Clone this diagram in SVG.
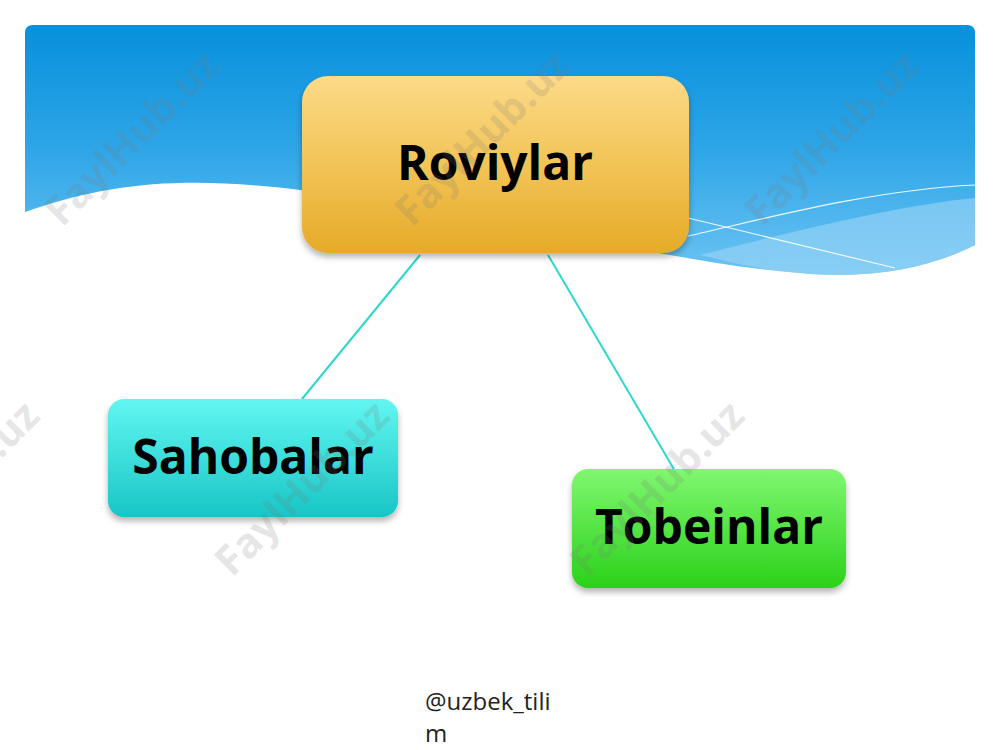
<svg xmlns="http://www.w3.org/2000/svg" width="1000" height="750" viewBox="0 0 1000 750">
<defs>
<linearGradient id="sky" x1="0" y1="0" x2="0" y2="1">
<stop offset="0" stop-color="#0790dc"/>
<stop offset="0.5" stop-color="#2ea6e8"/>
<stop offset="1" stop-color="#6cc3f2"/>
</linearGradient>
<linearGradient id="gold" x1="0" y1="0" x2="0" y2="1">
<stop offset="0" stop-color="#fcda88"/>
<stop offset="0.5" stop-color="#f2c457"/>
<stop offset="1" stop-color="#e6aa28"/>
</linearGradient>
<linearGradient id="cyan" x1="0" y1="0" x2="0" y2="1">
<stop offset="0" stop-color="#62f6f0"/>
<stop offset="1" stop-color="#17c6c6"/>
</linearGradient>
<linearGradient id="green" x1="0" y1="0" x2="0" y2="1">
<stop offset="0" stop-color="#80f770"/>
<stop offset="1" stop-color="#2bd11a"/>
</linearGradient>
<filter id="sh" x="-10%" y="-10%" width="120%" height="130%">
<feDropShadow dx="0" dy="4" stdDeviation="3" flood-color="#000" flood-opacity="0.3"/>
</filter>
</defs>
<style>
.lbl{font-family:"Open Sans","Noto Sans","DejaVu Sans",sans-serif;font-weight:bold;font-size:48px;fill:#000;text-anchor:middle}
.wm{font-family:"Open Sans","Noto Sans","DejaVu Sans",sans-serif;font-weight:bold;font-size:41px;fill:#7a7a7a;fill-opacity:0.2;text-anchor:middle}
.ft{font-family:"Open Sans","Noto Sans","DejaVu Sans",sans-serif;font-size:24px;fill:#222}
.conn{stroke:#2dd8cc;stroke-width:2;fill:none}
</style>
<rect width="1000" height="750" fill="#fff"/>
<g id="header">
<path d="M25,33 Q25,25 33,25 L967,25 Q975,25 975,33 L975,245 C930,268 870,280 800,273 C650,262 450,200 300,190 C200,178 120,178 25,212 Z" fill="url(#sky)"/>
<path d="M700,255 C800,230 900,205 975,198 L975,245 C930,268 870,280 800,273 C760,270 730,262 700,255 Z" fill="#9bd6f6" fill-opacity="0.6"/>
<path d="M688,236 C760,220 870,190 975,185" stroke="#fff" stroke-width="1.2" fill="none" stroke-opacity="0.9"/>
<path d="M688,218 C760,235 840,255 895,268" stroke="#fff" stroke-width="1.2" fill="none" stroke-opacity="0.9"/>
</g>
<g id="connectors">
<line class="conn" x1="420" y1="255" x2="302" y2="399"/>
<line class="conn" x1="548" y1="255" x2="675" y2="471"/>
</g>
<g id="roviylar">
<rect x="302" y="76" width="387" height="177" rx="26" fill="url(#gold)" filter="url(#sh)"/>
<text class="lbl" x="495" y="180">Roviylar</text>
</g>
<g id="sahobalar">
<rect x="108" y="399" width="290" height="118" rx="16" fill="url(#cyan)" filter="url(#sh)"/>
<text class="lbl" x="253" y="474">Sahobalar</text>
</g>
<g id="tobeinlar">
<rect x="572" y="469" width="274" height="119" rx="16" fill="url(#green)" filter="url(#sh)"/>
<text class="lbl" x="709" y="544">Tobeinlar</text>
</g>
<g id="footer">
<text class="ft" x="425" y="710">@uzbek_tili</text>
<text class="ft" x="425" y="742">m</text>
</g>
<g id="watermarks">
<text class="wm" transform="translate(142,148) rotate(-45)">FaylHub.uz</text>
<text class="wm" transform="translate(492,148) rotate(-45)">FaylHub.uz</text>
<text class="wm" transform="translate(842,148) rotate(-45)">FaylHub.uz</text>
<text class="wm" transform="translate(-38,498) rotate(-45)">FaylHub.uz</text>
<text class="wm" transform="translate(312,498) rotate(-45)">FaylHub.uz</text>
<text class="wm" transform="translate(667,498) rotate(-45)">FaylHub.uz</text>
</g>
</svg>
